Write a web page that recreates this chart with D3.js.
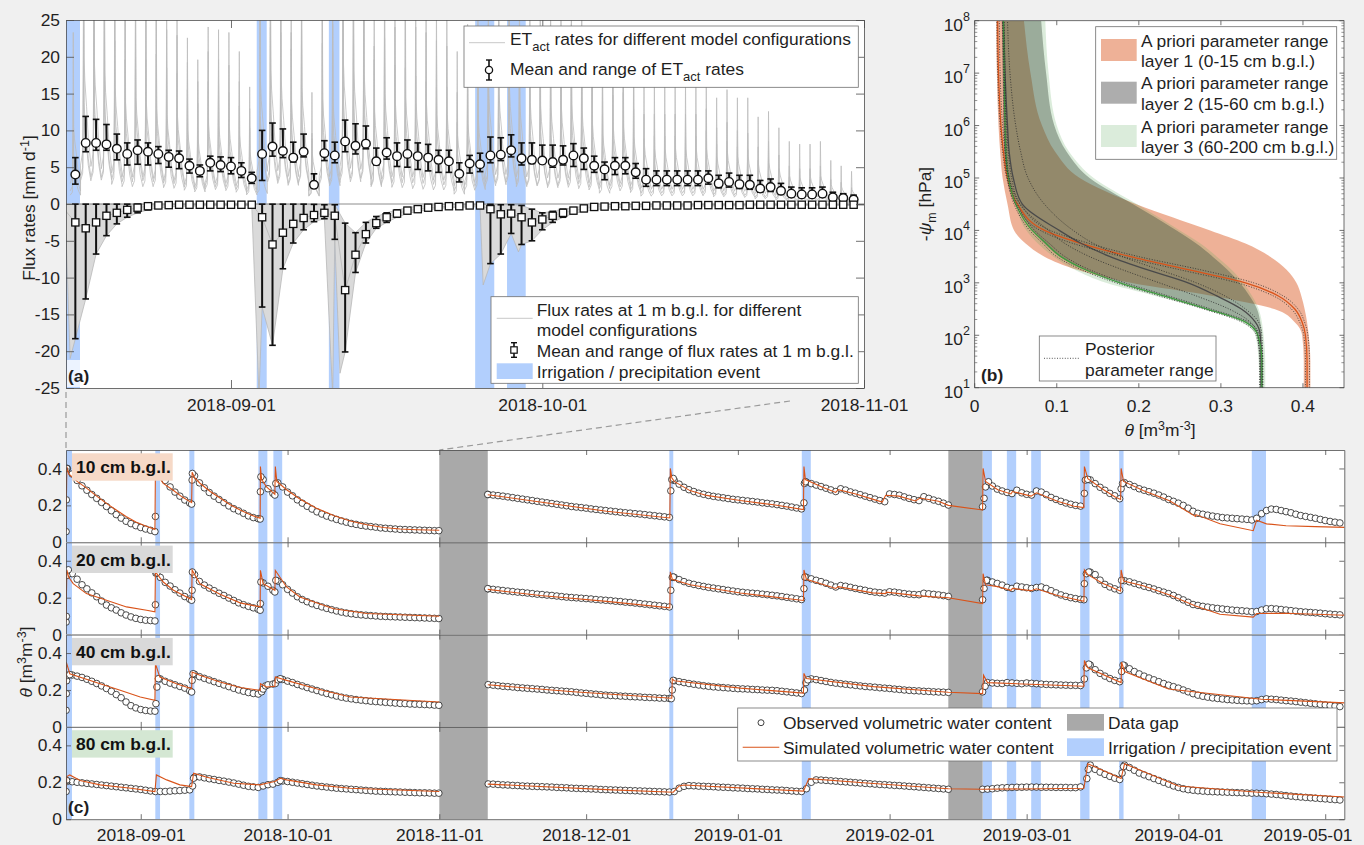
<!DOCTYPE html>
<html><head><meta charset="utf-8">
<script src="https://cdn.jsdelivr.net/npm/d3@7"></script>
<style>body{margin:0;background:#f0f0f0;}svg{display:block;}</style>
</head><body>
<svg id="fig" width="1364" height="845"></svg>
<script>
// ---------------- DATA (t = days since 2018-08-16 00:00 UTC) ----------------
const irrigation = [[0.5,1.95],[18.98,19.94],[25.93,26.95],[40.03,41.87],[43.1,44.9],[124.0,124.8],[151.06,152.9],[188.0,189.9],[192.96,194.86],[197.93,199.9],[207.94,209.84],[215.9,216.8],[243.0,245.9]];
const dataGaps = [[77,86.9],[181,188]];

// Panel (a): daily values, Aug 17 .. Oct 31 2018
const etMean = [4.0,8.3,8.3,8.1,7.5,6.8,7.3,7.1,6.8,6.4,6.2,5.2,4.5,5.6,5.3,5.1,4.5,3.5,6.8,7.8,7.2,6.3,7.1,2.6,6.9,6.6,8.5,7.9,8.2,5.8,7.0,6.5,6.8,6.5,6.3,6.0,5.8,4.1,5.5,5.4,6.6,6.7,7.3,6.2,6.0,5.9,5.7,6.0,6.6,6.2,5.2,4.7,5.2,5.2,4.3,3.3,3.3,3.3,3.3,3.3,3.3,3.5,2.8,3.0,2.7,2.6,2.1,2.3,1.8,1.4,1.3,1.3,1.4,0.9,0.8,0.6];
const etMax = [6.3,11.9,11.5,10.8,9.5,8.3,8.7,8.3,7.8,7.3,7.2,6.1,5.3,6.5,6.4,6.3,5.6,4.3,10.0,11.0,10.2,8.4,9.5,4.1,8.6,8.4,11.4,10.9,10.6,7.6,9.0,8.3,8.7,8.3,8.1,7.3,7.3,5.6,6.6,6.9,9.1,9.0,9.4,8.3,8.3,8.0,8.0,7.9,8.2,7.6,6.5,5.7,6.3,6.3,5.5,4.8,4.5,4.5,4.5,4.5,4.5,4.5,3.9,4.2,3.9,3.9,3.2,3.4,2.8,2.3,2.2,2.2,2.3,1.6,1.4,1.2];
const etMin = [2.7,7.1,7.3,7.3,6.0,5.3,5.4,5.3,5.5,5.0,4.8,4.2,3.7,4.5,4.4,4.1,3.6,2.8,3.2,6.5,6.3,5.7,6.4,2.4,5.9,5.6,7.1,6.8,7.5,5.3,6.1,5.1,5.0,4.7,4.5,4.3,4.3,3.0,4.2,4.4,5.6,5.9,6.4,5.3,5.5,5.5,5.0,5.3,5.1,4.7,4.3,3.3,4.0,4.1,3.5,2.4,2.5,2.5,2.5,2.5,2.5,2.7,2.2,2.3,2.1,2.0,1.6,1.7,1.3,1.0,0.9,0.9,1.0,0.6,0.5,0.4];
const fluxMean = [-2.5,-3.3,-2.5,-1.6,-1.2,-0.8,-0.5,-0.3,-0.2,-0.15,-0.1,-0.1,-0.1,-0.1,-0.1,-0.1,-0.1,-0.1,-1.8,-5.5,-3.9,-2.7,-1.9,-1.5,-1.2,-1.6,-11.7,-6.9,-4.1,-2.6,-1.8,-1.3,-0.9,-0.7,-0.5,-0.4,-0.3,-0.3,-0.2,-0.2,-0.7,-1.4,-1.3,-1.8,-2.5,-2.1,-1.6,-1.2,-0.9,-0.6,-0.4,-0.35,-0.3,-0.3,-0.25,-0.25,-0.2,-0.2,-0.2,-0.2,-0.15,-0.15,-0.15,-0.15,-0.15,-0.1,-0.1,-0.1,-0.1,-0.1,-0.1,-0.1,-0.1,-0.1,-0.1,-0.1];
const fluxMin = [-18.3,-12.9,-6.8,-4.3,-2.7,-1.8,-1.2,-0.8,-0.5,-0.4,-0.3,-0.3,-0.25,-0.2,-0.2,-0.2,-0.2,-0.2,-14.0,-19.2,-8.8,-5.3,-3.5,-2.4,-2.0,-4.8,-20.1,-9.3,-5.3,-3.3,-2.5,-1.8,-1.3,-1.0,-0.8,-0.6,-0.5,-0.45,-0.4,-0.35,-8.1,-6.8,-4.0,-5.5,-5.0,-3.5,-2.5,-1.8,-1.3,-1.0,-0.8,-0.6,-0.5,-0.45,-0.4,-0.4,-0.35,-0.35,-0.3,-0.3,-0.3,-0.3,-0.25,-0.25,-0.25,-0.25,-0.2,-0.2,-0.2,-0.2,-0.2,-0.2,-0.2,-0.2,-0.2,-0.2];
const fluxMax = [-0.02,-0.02,-0.02,-0.02,-0.02,-0.02,-0.02,-0.02,-0.02,-0.02,-0.02,-0.02,-0.02,-0.02,-0.02,-0.02,-0.02,-0.02,-0.02,-0.02,-0.02,-0.02,-0.02,-0.05,-0.1,-0.1,-2.6,-3.9,-2.5,-1.7,-1.2,-0.8,-0.5,-0.3,-0.2,-0.1,-0.05,-0.05,-0.05,-0.05,-0.05,-0.1,-0.1,-0.2,-0.7,-1.2,-1.0,-0.7,-0.5,-0.3,-0.2,-0.1,-0.05,-0.05,-0.05,-0.05,-0.05,-0.05,-0.05,-0.05,-0.05,-0.05,-0.05,-0.05,-0.05,-0.05,-0.05,-0.05,-0.05,-0.05,-0.05,-0.05,-0.05,-0.05,-0.05,-0.05];
const fluxDips = [[0.6,-4],[1.0,-21],[19.2,-26],[26.3,-26],[27.0,-23],[40.8,-11],[44.2,-6.5]];
// sub-daily ET pattern of the model lines: [hour, fraction of daily peak]
const diurnalShape = [[0,0.12],[5,0.16],[6.3,0.4],[7.2,1],[8.2,0.45],[10,0.38],[14,0.3],[18,0.2],[24,0.12]];
const aTicks = [16.5,46.5,77.5];
const aYTicks = [-25,-20,-15,-10,-5,0,5,10,15,20,25];

// Panel (b): retention curves, theta at log10(-psi) levels
const psiLog = [1,1.5,2,2.25,2.5,2.75,3,3.25,3.5,3.75,4,4.5,5,5.5,6,7,8];
const lay1Lo = [0.401,0.401,0.399,0.39,0.365,0.29,0.19,0.125,0.085,0.062,0.048,0.040,0.034,0.031,0.029,0.027,0.026];
const lay1Hi = [0.409,0.409,0.407,0.405,0.402,0.398,0.392,0.38,0.36,0.33,0.287,0.197,0.128,0.098,0.082,0.068,0.060];
const lay2Lo = [0.348,0.347,0.344,0.33,0.283,0.23,0.177,0.135,0.104,0.085,0.071,0.051,0.039,0.036,0.035,0.034,0.033];
const lay2Hi = [0.351,0.351,0.350,0.348,0.344,0.335,0.323,0.308,0.29,0.27,0.246,0.193,0.14,0.112,0.097,0.087,0.081];
const lay3Lo = [0.347,0.346,0.342,0.325,0.28,0.22,0.16,0.122,0.096,0.077,0.063,0.049,0.039,0.037,0.036,0.035,0.035];
const lay3Hi = [0.354,0.354,0.352,0.35,0.346,0.338,0.327,0.313,0.295,0.275,0.25,0.198,0.145,0.115,0.1,0.09,0.086];
const best1 = [0.405,0.405,0.403,0.399,0.39,0.37,0.33,0.26,0.19,0.13,0.085,0.052,0.040,0.035,0.032,0.029,0.028];
const best2 = [0.349,0.349,0.348,0.342,0.325,0.295,0.26,0.21,0.165,0.13,0.103,0.058,0.047,0.042,0.04,0.037,0.035];
const best3 = [0.35,0.35,0.345,0.33,0.283,0.23,0.177,0.135,0.105,0.087,0.07,0.05,0.041,0.038,0.037,0.036,0.035];
const post1a = [0.403,0.403,0.401,0.396,0.386,0.364,0.32,0.25,0.18,0.12,0.08,0.05,0.039,0.034,0.031,0.028,0.027];
const post1b = [0.408,0.408,0.406,0.402,0.394,0.376,0.34,0.275,0.2,0.14,0.092,0.056,0.042,0.037,0.034,0.031,0.03];
const post2a = [0.347,0.347,0.345,0.336,0.31,0.27,0.225,0.18,0.14,0.11,0.09,0.055,0.045,0.041,0.039,0.036,0.034];
const post2b = [0.351,0.351,0.35,0.346,0.33,0.305,0.27,0.225,0.18,0.145,0.12,0.085,0.065,0.056,0.05,0.043,0.04];
const post3a = [0.348,0.348,0.343,0.326,0.279,0.225,0.172,0.13,0.1,0.083,0.067,0.048,0.04,0.037,0.036,0.035,0.034];
const post3b = [0.351,0.351,0.347,0.334,0.288,0.236,0.183,0.14,0.11,0.091,0.073,0.052,0.042,0.039,0.038,0.037,0.036];
const bXTicks = [0,0.1,0.2,0.3,0.4];

// Panel (c): observed theta, daily segments {t0, v} + irregular points [t, v]
const obs10 = [
 {t0:1,v:[0.40,0.37,0.335,0.306,0.282,0.259,0.238,0.216,0.194,0.171,0.150,0.131,0.114,0.101,0.090,0.080,0.072,0.065]},
 {t0:20,v:[0.37,0.335,0.30,0.272,0.25,0.229,0.213]},
 {t0:27,v:[0.36,0.322,0.295,0.27,0.25,0.232,0.215,0.197,0.182,0.17,0.157,0.143,0.134,0.128]},
 {t0:41,v:[0.34,0.29,0.265]},
 {t0:44,v:[0.322,0.30,0.272,0.252,0.23,0.212,0.195,0.18,0.165,0.153,0.142,0.133,0.124,0.116,0.109,0.102,0.097,0.092,0.088,0.085,0.082,0.078,0.076,0.074,0.072,0.070,0.069,0.068,0.067,0.066,0.065,0.064,0.063]},
 {t0:87,v:[0.259,0.256,0.253,0.250,0.246,0.242,0.238,0.234,0.230,0.226,0.222,0.218,0.214,0.210,0.206,0.202,0.198,0.194,0.191,0.188,0.185,0.181,0.178,0.175,0.172,0.169,0.166,0.163,0.160,0.158,0.155,0.153,0.150,0.147,0.144,0.141,0.138,0.135]},
 {t0:125,v:[0.335,0.315,0.298,0.285,0.275,0.266,0.26,0.254,0.249,0.245,0.241,0.237,0.233,0.23,0.227,0.224,0.221,0.218,0.214,0.211,0.208,0.204,0.2,0.196,0.191,0.186,0.181]},
 {t0:152,v:[0.326,0.318,0.31,0.302,0.293,0.284,0.275,0.29,0.283,0.273,0.266,0.258,0.25,0.242,0.234,0.226,0.22,0.262,0.259,0.255,0.246,0.238,0.231,0.226,0.247,0.238,0.229,0.222,0.212,0.202]},
 {t0:190,v:[0.305,0.288,0.278,0.27,0.264,0.282,0.268,0.26,0.256,0.278,0.272,0.258,0.243,0.232,0.222,0.213,0.206,0.2,0.196]},
 {t0:210,v:[0.338,0.318,0.298,0.282,0.265,0.252,0.236]},
 {t0:217,v:[0.323,0.313,0.302,0.29,0.282,0.274,0.266,0.256,0.245,0.232,0.222,0.212,0.2,0.185,0.168,0.157,0.152,0.147,0.142,0.138,0.134,0.132,0.13,0.128,0.126,0.124,0.121,0.13,0.155,0.172,0.18,0.178,0.172,0.166,0.16,0.152,0.145,0.14,0.135,0.13,0.124,0.118,0.113,0.109,0.105]}];
const obs10x = [[0.75,0.058],[0.8,0.23],[0.9,0.40],[18.9,0.058],[19.0,0.14],[19.1,0.38],[19.3,0.39],[26.4,0.207],[26.5,0.337],[26.55,0.373],[40.4,0.126],[40.45,0.274],[40.55,0.355],[43.4,0.256],[43.6,0.319],[76.9,0.063],[86.9,0.259],[124.3,0.279],[124.5,0.34],[124.8,0.346],[151.5,0.214],[151.6,0.319],[151.8,0.328],[188.0,0.193],[188.3,0.238],[188.6,0.30],[189.2,0.328],[208.8,0.265],[209.0,0.337],[209.5,0.341],[216.3,0.29],[216.6,0.319]];

const obs20 = [
 {t0:2,v:[0.33,0.30,0.27,0.248,0.226,0.205,0.182,0.16,0.145,0.133,0.118,0.106,0.096,0.088,0.082,0.078,0.076]},
 {t0:20,v:[0.31,0.283,0.263,0.243,0.225,0.206,0.192]},
 {t0:27,v:[0.325,0.288,0.268,0.252,0.238,0.224,0.212,0.198,0.185,0.172,0.162,0.153,0.145,0.137]},
 {t0:41,v:[0.28,0.262,0.24]},
 {t0:44,v:[0.29,0.27,0.245,0.225,0.205,0.19,0.178,0.167,0.158,0.15,0.142,0.135,0.128,0.122,0.117,0.113,0.11,0.107,0.105,0.103,0.101,0.099,0.098,0.097,0.096,0.095,0.094,0.093,0.092,0.091,0.09,0.089,0.088]},
 {t0:87,v:[0.248,0.245,0.242,0.239,0.236,0.233,0.23,0.228,0.225,0.222,0.219,0.217,0.214,0.212,0.209,0.206,0.203,0.201,0.199,0.197,0.195,0.193,0.19,0.188,0.186,0.184,0.181,0.179,0.176,0.174,0.171,0.168,0.165,0.162,0.159,0.156,0.153,0.15]},
 {t0:125,v:[0.31,0.298,0.287,0.278,0.272,0.266,0.261,0.256,0.252,0.248,0.244,0.24,0.236,0.232,0.229,0.226,0.224,0.222,0.219,0.216,0.213,0.21,0.206,0.202,0.198,0.194,0.19]},
 {t0:152,v:[0.31,0.302,0.294,0.287,0.278,0.268,0.258,0.266,0.262,0.256,0.25,0.245,0.24,0.234,0.23,0.227,0.225,0.232,0.23,0.226,0.222,0.219,0.217,0.216,0.224,0.221,0.218,0.215,0.211,0.207]},
 {t0:189,v:[0.294,0.285,0.277,0.268,0.256,0.25,0.262,0.258,0.254,0.25,0.255,0.258,0.25,0.238,0.226,0.215,0.207,0.2,0.195,0.191]},
 {t0:210,v:[0.338,0.325,0.295,0.272,0.258,0.248,0.24]},
 {t0:217,v:[0.292,0.286,0.278,0.27,0.262,0.255,0.247,0.238,0.23,0.222,0.212,0.2,0.188,0.175,0.163,0.158,0.153,0.149,0.145,0.142,0.139,0.136,0.133,0.131,0.129,0.127,0.124,0.125,0.133,0.14,0.141,0.139,0.136,0.133,0.13,0.127,0.124,0.122,0.12,0.118,0.116,0.113,0.111,0.109,0.107]}];
const obs20x = [[0.75,0.068],[0.8,0.099],[0.9,0.32],[1.2,0.351],[18.9,0.074],[19.0,0.162],[19.1,0.333],[19.3,0.335],[26.4,0.186],[26.5,0.24],[26.55,0.339],[40.4,0.132],[40.45,0.168],[40.55,0.285],[43.4,0.231],[43.6,0.294],[76.9,0.087],[86.9,0.249],[124.3,0.24],[124.6,0.31],[124.8,0.312],[151.5,0.249],[151.7,0.312],[188,0.189],[188.3,0.25],[188.8,0.294],[208.7,0.189],[208.8,0.276],[209.2,0.33],[209.7,0.339],[216.4,0.294]];

const obs40 = [
 {t0:2,v:[0.281,0.275,0.268,0.258,0.247,0.235,0.222,0.208,0.193,0.175,0.158,0.135,0.115,0.103,0.094,0.089,0.086]},
 {t0:20,v:[0.26,0.247,0.237,0.228,0.219,0.21,0.196]},
 {t0:27,v:[0.285,0.272,0.263,0.254,0.245,0.236,0.227,0.218,0.209,0.2,0.193,0.186,0.181,0.178]},
 {t0:45,v:[0.257,0.248,0.24,0.23,0.222,0.213,0.205,0.197,0.189,0.181,0.174,0.167,0.161,0.156,0.152,0.148,0.145,0.142,0.139,0.137,0.135,0.133,0.131,0.129,0.127,0.126,0.124,0.123,0.122,0.121,0.12,0.118]},
 {t0:87,v:[0.229,0.226,0.223,0.22,0.218,0.216,0.213,0.211,0.209,0.207,0.205,0.203,0.2,0.198,0.196,0.194,0.192,0.19,0.187,0.184,0.182,0.179,0.177,0.174,0.172,0.17,0.169,0.167,0.166,0.164,0.163,0.162,0.16,0.159,0.158,0.156,0.155,0.154]},
 {t0:125,v:[0.25,0.245,0.24,0.235,0.231,0.227,0.223,0.22,0.217,0.215,0.213,0.211,0.209,0.207,0.206,0.205,0.203,0.202,0.2,0.199,0.198,0.196,0.193,0.19,0.187,0.184,0.181]},
 {t0:153,v:[0.26,0.256,0.251,0.246,0.241,0.237,0.234,0.231,0.228,0.225,0.222,0.219,0.217,0.215,0.212,0.21,0.208,0.205,0.203,0.2,0.198,0.196,0.195,0.193,0.192,0.19,0.189,0.188,0.187]},
 {t0:189,v:[0.24,0.238,0.236,0.235,0.24,0.238,0.236,0.234,0.238,0.236,0.234,0.232,0.23,0.229,0.228,0.227,0.226,0.225,0.225,0.224]},
 {t0:210,v:[0.335,0.31,0.29,0.275,0.262,0.252,0.245]},
 {t0:217,v:[0.332,0.315,0.3,0.287,0.275,0.265,0.255,0.245,0.235,0.226,0.218,0.21,0.2,0.19,0.18,0.172,0.166,0.161,0.157,0.154,0.151,0.148,0.146,0.144,0.142,0.141,0.14,0.142,0.148,0.152,0.15,0.148,0.145,0.142,0.14,0.137,0.134,0.131,0.128,0.125,0.122,0.119,0.116,0.113,0.11]}];
const obs40x = [[0.75,0.09],[0.8,0.18],[0.85,0.25],[1.0,0.279],[1.5,0.283],[18.9,0.085],[19.1,0.126],[19.3,0.216],[19.6,0.261],[26.4,0.189],[26.5,0.252],[26.7,0.288],[40.7,0.19],[41.0,0.205],[41.5,0.222],[42,0.228],[43,0.232],[43.5,0.235],[44,0.255],[44.5,0.261],[76.9,0.117],[124.4,0.153],[124.6,0.2],[124.8,0.252],[151.6,0.2],[151.9,0.24],[152.3,0.255],[188,0.19],[188.5,0.22],[208.8,0.26],[209.2,0.32],[209.7,0.34],[216.4,0.3],[216.7,0.335]];

const obs80 = [
 {t0:1,v:[0.205,0.203,0.2,0.197,0.194,0.191,0.188,0.185,0.182,0.179,0.176,0.173,0.17,0.167,0.164,0.161,0.157,0.153,0.15,0.15,0.15,0.152,0.154,0.155,0.157,0.159]},
 {t0:27,v:[0.228,0.229,0.224,0.219,0.215,0.21,0.206,0.201,0.196,0.19,0.184,0.178,0.175,0.172,0.18,0.187,0.19,0.2]},
 {t0:45,v:[0.207,0.204,0.2,0.196,0.192,0.188,0.184,0.18,0.177,0.174,0.171,0.168,0.166,0.164,0.162,0.16,0.158,0.156,0.154,0.152,0.151,0.15,0.149,0.148,0.147,0.146,0.145,0.144,0.143,0.143,0.142,0.141]},
 {t0:87,v:[0.191,0.19,0.188,0.186,0.185,0.183,0.182,0.18,0.179,0.178,0.177,0.176,0.175,0.174,0.172,0.171,0.17,0.168,0.167,0.166,0.165,0.164,0.163,0.161,0.16,0.159,0.158,0.157,0.156,0.155,0.154,0.153,0.152,0.151,0.15,0.149,0.148,0.147,0.15,0.168,0.178,0.182,0.181,0.179,0.178,0.177,0.176,0.174,0.173,0.172,0.17,0.169,0.168,0.166,0.165,0.164,0.162,0.161,0.159,0.158,0.157,0.155,0.153,0.151,0.15,0.165,0.2,0.213,0.212,0.21,0.208,0.206,0.204,0.202,0.2,0.198,0.196,0.194,0.192,0.19,0.188,0.187,0.185,0.183,0.182,0.18,0.178,0.176,0.174,0.172,0.17,0.168,0.166,0.164,0.162]},
 {t0:188,v:[0.162,0.163,0.165,0.168,0.17,0.171,0.172,0.173,0.173,0.174,0.174,0.174,0.173,0.173,0.173,0.172,0.172,0.172,0.171,0.171,0.175]},
 {t0:210,v:[0.293,0.27,0.255,0.243,0.232,0.222,0.215]},
 {t0:217,v:[0.293,0.28,0.265,0.25,0.24,0.23,0.22,0.21,0.2,0.19,0.18,0.172,0.165,0.16,0.157,0.154,0.152,0.15,0.149,0.148,0.147,0.146,0.145,0.144,0.143,0.142,0.141,0.141,0.14,0.138,0.136,0.134,0.131,0.128,0.125,0.122,0.12,0.118,0.116,0.114,0.112,0.11,0.108,0.106,0.104]}];
const obs80x = [[0.75,0.15],[0.85,0.21],[26.6,0.18],[26.8,0.222],[44.5,0.209],[76.9,0.141],[209.3,0.22],[209.6,0.27],[216.5,0.25],[216.8,0.285]];

// Panel (c): simulated theta (main model line), [t, v]
const sim10 = [
 [[0.73,0.06],[0.9,0.41],[1.3,0.37],[3,0.33],[5,0.292],[7,0.25],[9,0.211],[11,0.175],[13,0.14],[15,0.11],[17,0.088],[18.9,0.07],[19.0,0.40],[19.3,0.37],[20.6,0.319],[22.5,0.285],[24.5,0.245],[26.4,0.215],[26.5,0.38],[27,0.35],[28.1,0.32],[30.2,0.275],[32.2,0.24],[34.2,0.205],[36.3,0.175],[38.3,0.15],[40.4,0.13],[40.45,0.41],[40.7,0.34],[41.7,0.30],[43.4,0.26],[43.5,0.41],[43.8,0.33],[45.8,0.285],[48.5,0.235],[51.9,0.185],[55.4,0.145],[58.8,0.115],[62.2,0.095],[65.6,0.08],[69,0.072],[72.4,0.068],[77,0.065]],
 [[86.9,0.258],[97.6,0.218],[111.2,0.168],[124.1,0.132],[124.2,0.40],[124.5,0.35],[125,0.33],[128.2,0.28],[131.6,0.254],[138.5,0.226],[145.3,0.203],[151.4,0.177],[151.5,0.41],[151.8,0.34],[155.3,0.298],[158,0.27],[158.5,0.285],[162.1,0.262],[165.5,0.234],[167.5,0.218],[168.2,0.255],[170.9,0.25],[174.3,0.224],[175.2,0.24],[179,0.222],[181,0.2],[188,0.175],[188.1,0.40],[188.6,0.33],[191.1,0.285],[193.8,0.262],[194.1,0.275],[197.9,0.25],[199,0.268],[203.3,0.222],[206.7,0.195],[208.7,0.188],[208.8,0.41],[209.5,0.345],[212.4,0.29],[215.1,0.245],[216.2,0.232],[216.3,0.40],[216.8,0.33],[220.8,0.28],[226.2,0.225],[231.5,0.14],[231.6,0.15],[236.5,0.1],[243.3,0.063],[244,0.12],[246,0.1],[250,0.09],[256,0.085],[262,0.081]]];
const sim20 = [
 [[0.73,0.07],[0.9,0.35],[1.3,0.31],[2.2,0.276],[4.9,0.222],[9,0.186],[13.1,0.15],[17.2,0.132],[18.9,0.123],[19.0,0.34],[20.6,0.285],[22.7,0.24],[26.4,0.19],[26.5,0.35],[28.1,0.275],[32.2,0.218],[36.3,0.172],[40.4,0.15],[40.45,0.348],[41,0.276],[43.4,0.24],[43.5,0.348],[45.8,0.258],[48.5,0.204],[55.4,0.14],[62.2,0.114],[77,0.099]],
 [[86.9,0.245],[97.6,0.212],[111.2,0.18],[124.1,0.145],[124.2,0.34],[124.6,0.3],[128.2,0.27],[138.5,0.225],[151.4,0.185],[151.5,0.35],[152,0.3],[158,0.25],[158.5,0.26],[165.5,0.226],[168.2,0.222],[168.3,0.23],[175,0.21],[181,0.2],[188,0.168],[188.1,0.33],[188.6,0.27],[191.1,0.26],[193.8,0.24],[194.1,0.25],[197.9,0.238],[199,0.248],[203.3,0.212],[208.7,0.18],[208.8,0.35],[209.5,0.325],[212.4,0.28],[216.2,0.235],[216.3,0.35],[216.8,0.29],[220.8,0.265],[226.2,0.215],[231.5,0.155],[236.5,0.11],[243.3,0.095],[244,0.114],[250,0.116],[262,0.105]]];
const sim40 = [
 [[0.73,0.09],[0.8,0.35],[1.5,0.288],[7.7,0.234],[11.8,0.198],[15.9,0.162],[18.9,0.144],[19.0,0.342],[19.9,0.27],[23.3,0.234],[26.4,0.207],[26.5,0.297],[28.1,0.28],[32.2,0.243],[36.3,0.213],[40.4,0.198],[40.45,0.234],[41.7,0.216],[43.4,0.22],[43.5,0.27],[45.8,0.252],[51.9,0.207],[58.8,0.162],[77,0.135]],
 [[86.9,0.228],[104.4,0.19],[124.5,0.155],[124.6,0.26],[125,0.25],[138.5,0.21],[151.4,0.183],[151.5,0.29],[152,0.262],[165.7,0.218],[181,0.188],[188,0.18],[188.2,0.28],[189,0.24],[208.7,0.22],[208.8,0.36],[209.5,0.32],[216.3,0.24],[216.4,0.35],[217,0.3],[226,0.205],[245,0.15],[262,0.13]]];
const sim80 = [
 [[0.73,0.15],[0.9,0.231],[1.5,0.24],[3.6,0.21],[7.7,0.186],[14,0.168],[18.9,0.15],[19.2,0.24],[21.3,0.213],[24,0.186],[26.4,0.177],[26.8,0.249],[29.5,0.227],[35,0.195],[40.4,0.186],[41.7,0.195],[43.4,0.204],[44.5,0.222],[45.8,0.213],[51.9,0.186],[58.8,0.168],[77,0.15]],
 [[86.9,0.19],[111.2,0.16],[124.8,0.146],[126,0.18],[127,0.185],[151.4,0.152],[152.5,0.22],[165,0.195],[181,0.165],[188,0.162],[208.7,0.168],[209.5,0.3],[216.3,0.22],[217,0.3],[228,0.18],[245,0.145],[262,0.12]]];
const depthLabels = ["10 cm b.g.l.","20 cm b.g.l.","40 cm b.g.l.","80 cm b.g.l."];
const cYTicks = [0,0.2,0.4];

// ---------------- DRAWING ----------------
const FONT = '"Liberation Sans", Arial, Helvetica, sans-serif';
const FS = 17.4, FSS = 12.5;
const BLUE = "#b2cffd", GAPC = "#a9a9a9", ORANGE = "#d95319", AXC = "#4d4d4d", TXT = "#1f1f1f";
const T0 = Date.UTC(2018,7,16), DAY = 864e5;
const dt = t => new Date(T0 + t*DAY);
const svg = d3.select("#fig").attr("font-family", FONT);
svg.append("rect").attr("width",1364).attr("height",845).attr("fill","#f0f0f0");
const defs = svg.append("defs");
let clipN = 0;
function clip(x,y,w,h){ const id="c"+(clipN++); defs.append("clipPath").attr("id",id).append("rect").attr("x",x).attr("y",y).attr("width",w).attr("height",h); return `url(#${id})`; }
function styleAx(g){ g.attr("font-family",FONT).attr("font-size",FS);
  g.select(".domain").attr("stroke",AXC).attr("stroke-width",0.8);
  g.selectAll(".tick line").attr("stroke",AXC).attr("stroke-width",0.8);
  g.selectAll(".tick text").attr("fill",TXT); }
function boxAxes(g, xs, ys, o){
  const [x0,x1] = xs.range(), [yb,yt] = ys.range(), L = o.tick;
  g.append("g").attr("transform",`translate(${x0},0)`).call(d3.axisLeft(ys).tickValues(o.yTicks).tickSizeInner(-L).tickSizeOuter(0).tickPadding(o.yPad).tickFormat(o.yFmt||(()=>""))).call(styleAx);
  g.append("g").attr("transform",`translate(${x1},0)`).call(d3.axisRight(ys).tickValues(o.yTicks).tickSizeInner(-L).tickSizeOuter(0).tickFormat(()=>"")).call(styleAx);
  const bx = g.append("g").attr("transform",`translate(0,${yb})`).call(d3.axisBottom(xs).tickValues(o.xTicks).tickSizeInner(-L).tickSizeOuter(0).tickPadding(o.xPad).tickFormat(o.xFmt||(()=>""))).call(styleAx);
  g.append("g").attr("transform",`translate(0,${yt})`).call(d3.axisTop(xs).tickValues(o.xTicks).tickSizeInner(-L).tickSizeOuter(0).tickFormat(()=>"")).call(styleAx);
  return bx;
}
const dateFmt = d3.utcFormat("%Y-%m-%d");

// connectors (zoom lines)
svg.append("line").attr("x1",66).attr("y1",392).attr("x2",66).attr("y2",450).attr("stroke","#9a9a9a").attr("stroke-width",1.2).attr("stroke-dasharray","6,4");
svg.append("line").attr("x1",790).attr("y1",401).attr("x2",439.3).attr("y2",450).attr("stroke","#9a9a9a").attr("stroke-width",1.2).attr("stroke-dasharray","6,4");

// ===== Panel (a) =====
const A = {l:66, r:864, t:20, b:388};
const xa = d3.scaleUtc().domain([dt(0.6), dt(77.5)]).range([A.l, A.r]);
const ya = d3.scaleLinear().domain([-25,25]).range([A.b, A.t]);
const gA = svg.append("g");
gA.append("rect").attr("x",A.l).attr("y",A.t).attr("width",A.r-A.l).attr("height",A.b-A.t).attr("fill","#fff");
const pA = gA.append("g").attr("clip-path", clip(A.l,A.t,A.r-A.l,A.b-A.t));
pA.selectAll(null).data(irrigation).join("rect").attr("x",d=>xa(dt(d[0]))).attr("width",d=>xa(dt(d[1]))-xa(dt(d[0]))).attr("y",A.t).attr("height",A.b-A.t).attr("fill",BLUE);
const lineA = d3.line().x(d=>xa(dt(d[0]))).y(d=>ya(d[1]));
function dailyPts(vals, extra, first){ const p = vals.map((v,i)=>[i+1.5, v]); if(first!==undefined) p.push([0.6, first]); if(extra) extra.forEach(e=>p.push(e)); p.push([77.5, vals[vals.length-1]]); return p.sort((a,b)=>a[0]-b[0]); }
// flux model configurations (fan)
const fMin = dailyPts(fluxMin, fluxDips), fMax = dailyPts(fluxMax, null, 0), fMean = dailyPts(fluxMean, null, -1);
pA.append("path").attr("d", lineA(fMin.concat(fMax.slice().reverse()))+"Z").attr("fill","#dadada");
[fMin, fMean, fMax].forEach(p=>pA.append("path").attr("d",lineA(p)).attr("fill","none").attr("stroke","#b8b8b8").attr("stroke-width",0.8));
// ET model configurations (sub-daily)
const shapeMean = d3.sum(d3.pairs(diurnalShape), ([a,b])=>(b[0]-a[0])*(a[1]+b[1])/2)/24;
function etPts(vals){ const p=[]; vals.forEach((v,i)=>diurnalShape.forEach(([h,f])=>p.push([i+1+h/24, v*f/shapeMean]))); return p; }
[etMin, etMean, etMax].forEach(vals=>pA.append("path").attr("d",lineA(etPts(vals))).attr("fill","none").attr("stroke","#bcbcbc").attr("stroke-width",0.8));
pA.append("line").attr("x1",A.l).attr("x2",A.r).attr("y1",ya(0)).attr("y2",ya(0)).attr("stroke","#8c8c8c").attr("stroke-width",1);
// error bars
function errBars(g, mean, lo, hi, marker){
  mean.forEach((m,i)=>{ const x = xa(dt(i+1.5));
    g.append("line").attr("x1",x).attr("x2",x).attr("y1",ya(lo[i])).attr("y2",ya(hi[i])).attr("stroke","#111").attr("stroke-width",2);
    [lo[i],hi[i]].forEach(v=>g.append("line").attr("x1",x-3.3).attr("x2",x+3.3).attr("y1",ya(v)).attr("y2",ya(v)).attr("stroke","#111").attr("stroke-width",1.6));
    if(marker==="o") g.append("circle").attr("cx",x).attr("cy",ya(m)).attr("r",4.3).attr("fill","#fff").attr("stroke","#111").attr("stroke-width",1.4);
    else g.append("rect").attr("x",x-3.6).attr("y",ya(m)-3.6).attr("width",7.2).attr("height",7.2).attr("fill","#fff").attr("stroke","#111").attr("stroke-width",1.3);
  });
}
errBars(pA, etMean, etMin, etMax, "o");
errBars(pA, fluxMean, fluxMin, fluxMax, "s");
boxAxes(gA, xa, ya, {tick:8, yTicks:aYTicks, yFmt:d=>String(d), yPad:6, xTicks:aTicks.map(dt), xFmt:dateFmt, xPad:10.5});
// (a) label
gA.append("rect").attr("x",67).attr("y",360).attr("width",26).attr("height",27).attr("fill","#fff").attr("opacity",0.75);
gA.append("text").attr("x",68).attr("y",382).attr("font-size",FS).attr("font-weight","bold").attr("fill",TXT).text("(a)");
gA.append("text").attr("transform","translate(35,208) rotate(-90)").attr("text-anchor","middle").attr("font-size",FS).attr("fill",TXT)
  .call(t=>{ t.append("tspan").text("Flux rates [mm d"); t.append("tspan").attr("dy",-6.5).attr("font-size",FSS).text("-1"); t.append("tspan").attr("dy",6.5).text("]"); });
// legends (a)
function legendBox(g,x,y,w,h){ g.append("rect").attr("x",x).attr("y",y).attr("width",w).attr("height",h).attr("fill","#fff").attr("stroke","#6e6e6e").attr("stroke-width",0.8); }
function etText(g,x,y,pre,post){ const t=g.append("text").attr("x",x).attr("y",y).attr("font-size",FS).attr("fill",TXT);
  t.append("tspan").text(pre+"ET"); t.append("tspan").attr("dy",6).attr("font-size",13).text("act"); t.append("tspan").attr("dy",-6).text(post); }
legendBox(gA,464,26,394.3,61.3);
gA.append("line").attr("x1",469).attr("x2",505).attr("y1",42.7).attr("y2",42.7).attr("stroke","#c8c8c8").attr("stroke-width",1);
etText(gA,510,45.3,""," rates for different model configurations");
gA.append("line").attr("x1",489).attr("x2",489).attr("y1",60).attr("y2",80).attr("stroke","#111").attr("stroke-width",1.6);
[60,80].forEach(v=>gA.append("line").attr("x1",486).attr("x2",492).attr("y1",v).attr("y2",v).attr("stroke","#111").attr("stroke-width",1.4));
gA.append("circle").attr("cx",489).attr("cy",70).attr("r",3.6).attr("fill","#fff").attr("stroke","#111").attr("stroke-width",1.3);
etText(gA,510,74.5,"Mean and range of "," rates");
legendBox(gA,491,296.7,367.3,86.6);
gA.append("line").attr("x1",496.7).attr("x2",532.7).attr("y1",318.3).attr("y2",318.3).attr("stroke","#c8c8c8").attr("stroke-width",1);
[["Flux rates at 1 m b.g.l. for different",315.6],["model configurations",336.3],["Mean and range of flux rates at 1 m b.g.l.",357.3],["Irrigation / precipitation event",378]].forEach(([s,y])=>
  gA.append("text").attr("x",536.7).attr("y",y).attr("font-size",FS).attr("fill",TXT).text(s));
gA.append("line").attr("x1",514).attr("x2",514).attr("y1",342.7).attr("y2",357.3).attr("stroke","#111").attr("stroke-width",1.6);
[342.7,357.3].forEach(v=>gA.append("line").attr("x1",511).attr("x2",517).attr("y1",v).attr("y2",v).attr("stroke","#111").attr("stroke-width",1.4));
gA.append("rect").attr("x",510.8).attr("y",346.8).attr("width",6.4).attr("height",6.4).attr("fill","#fff").attr("stroke","#111").attr("stroke-width",1.2);
gA.append("rect").attr("x",496.7).attr("y",363.3).attr("width",36).attr("height",15.7).attr("fill",BLUE);

// ===== Panel (b) =====
const B = {l:974.7, r:1344, t:20.7, b:387.7};
const xb = d3.scaleLinear().domain([0,0.45]).range([B.l,B.r]);
const yb = d3.scaleLog().domain([10,1e8]).range([B.b,B.t]);
const gB = svg.append("g");
gB.append("rect").attr("x",B.l).attr("y",B.t).attr("width",B.r-B.l).attr("height",B.b-B.t).attr("fill","#fff");
const pB = gB.append("g").attr("clip-path", clip(B.l,B.t,B.r-B.l,B.b-B.t));
const rowsB = (lo,hi)=>psiLog.map((l,i)=>({l, lo:lo[i], hi:hi[i]}));
const areaB = d3.area().curve(d3.curveMonotoneY).y(d=>yb(10**d.l)).x0(d=>xb(d.lo)).x1(d=>xb(d.hi));
const lineB = d3.line().curve(d3.curveMonotoneY).y(d=>yb(10**d.l)).x(d=>xb(d.v));
const lnB = arr=>psiLog.map((l,i)=>({l, v:arr[i]}));
const F1 = "rgba(217,83,25,0.45)", F2 = "rgba(60,60,60,0.42)", F3 = "rgba(90,170,90,0.22)";
pB.append("path").attr("d",areaB(rowsB(lay1Lo,lay1Hi))).attr("fill",F1);
pB.append("path").attr("d",areaB(rowsB(lay2Lo,lay2Hi))).attr("fill",F2);
pB.append("path").attr("d",areaB(rowsB(lay3Lo,lay3Hi))).attr("fill",F3);
[[best1,ORANGE],[best2,"#4a4a4a"],[best3,"#3f9a3f"]].forEach(([a,c])=>pB.append("path").attr("d",lineB(lnB(a))).attr("fill","none").attr("stroke",c).attr("stroke-width",1.3));
[post1a,post1b,post2a,post2b,post3a,post3b].forEach(a=>pB.append("path").attr("d",lineB(lnB(a))).attr("fill","none").attr("stroke","#2a2a2a").attr("stroke-width",0.8).attr("stroke-dasharray","1,1.6"));
// axes (b)
const bAx = gB.append("g");
const bMajor = d3.range(1,9).map(k=>10**k);
const bMinor = []; for(let k=1;k<8;k++) for(let m=2;m<10;m++) bMinor.push(m*10**k);
bAx.append("rect").attr("x",B.l).attr("y",B.t).attr("width",B.r-B.l).attr("height",B.b-B.t).attr("fill","none").attr("stroke",AXC).attr("stroke-width",0.8);
bMajor.forEach(v=>{ const y=yb(v); bAx.append("line").attr("x1",B.l).attr("x2",B.l+4.5).attr("y1",y).attr("y2",y).attr("stroke",AXC).attr("stroke-width",0.8); bAx.append("line").attr("x1",B.r-4.5).attr("x2",B.r).attr("y1",y).attr("y2",y).attr("stroke",AXC).attr("stroke-width",0.8);
  const t=bAx.append("text").attr("x",970).attr("y",y+10).attr("text-anchor","end").attr("font-size",FS).attr("fill",TXT);
  t.append("tspan").text("10"); t.append("tspan").attr("dy",-10).attr("font-size",FSS).text(Math.round(Math.log10(v))); });
bMinor.forEach(v=>{ const y=yb(v); bAx.append("line").attr("x1",B.l).attr("x2",B.l+2.6).attr("y1",y).attr("y2",y).attr("stroke",AXC).attr("stroke-width",0.6); bAx.append("line").attr("x1",B.r-2.6).attr("x2",B.r).attr("y1",y).attr("y2",y).attr("stroke",AXC).attr("stroke-width",0.6); });
bXTicks.forEach(v=>{ const x=xb(v); bAx.append("line").attr("x1",x).attr("x2",x).attr("y1",B.b).attr("y2",B.b-4.5).attr("stroke",AXC).attr("stroke-width",0.8); bAx.append("line").attr("x1",x).attr("x2",x).attr("y1",B.t).attr("y2",B.t+4.5).attr("stroke",AXC).attr("stroke-width",0.8);
  bAx.append("text").attr("x",x).attr("y",412).attr("text-anchor","middle").attr("font-size",FS).attr("fill",TXT).text(v===0?"0":v.toFixed(1)); });
gB.append("text").attr("x",1160).attr("y",436).attr("text-anchor","middle").attr("font-size",FS).attr("fill",TXT)
  .call(t=>{ t.append("tspan").attr("font-style","italic").text("θ"); t.append("tspan").text(" [m"); t.append("tspan").attr("dy",-6.5).attr("font-size",FSS).text("3"); t.append("tspan").attr("dy",6.5).text("m"); t.append("tspan").attr("dy",-6.5).attr("font-size",FSS).text("-3"); t.append("tspan").attr("dy",6.5).text("]"); });
gB.append("text").attr("transform","translate(931,204) rotate(-90)").attr("text-anchor","middle").attr("font-size",FS).attr("fill",TXT)
  .call(t=>{ t.append("tspan").text("-"); t.append("tspan").attr("font-style","italic").text("ψ"); t.append("tspan").attr("dy",5).attr("font-size",FSS).text("m"); t.append("tspan").attr("dy",-5).text("  [hPa]"); });
gB.append("text").attr("x",981).attr("y",381).attr("font-size",FS).attr("font-weight","bold").attr("fill",TXT).text("(b)");
legendBox(gB,1095.7,26.7,241,132.6);
[[F1,39,"layer 1 (0-15 cm b.g.l.)",46.7],[F2,81.7,"layer 2 (15-60 cm b.g.l.)",89.3],[F3,125,"layer 3 (60-200 cm b.g.l.)",132.7]].forEach(([c,y,s,ty])=>{
  gB.append("rect").attr("x",1101).attr("y",y).attr("width",35.7).attr("height",22).attr("fill",c);
  gB.append("text").attr("x",1141).attr("y",ty).attr("font-size",FS).attr("fill",TXT).text("A priori parameter range");
  gB.append("text").attr("x",1141).attr("y",ty+20.5).attr("font-size",FS).attr("fill",TXT).text(s); });
legendBox(gB,1039.3,336,176.7,45);
gB.append("line").attr("x1",1044).attr("x2",1080).attr("y1",358.3).attr("y2",358.3).attr("stroke","#2a2a2a").attr("stroke-width",0.8).attr("stroke-dasharray","1,1.6");
gB.append("text").attr("x",1085).attr("y",355).attr("font-size",FS).attr("fill",TXT).text("Posterior");
gB.append("text").attr("x",1085).attr("y",376).attr("font-size",FS).attr("fill",TXT).text("parameter range");

// ===== Panel (c) =====
const C = {l:66, r:1344.3};
const xc = d3.scaleUtc().domain([dt(0.73), dt(261.9)]).range([C.l, C.r]);
const rowTops = [450, 542.3, 634.6, 726.9], rowH = 92.3;
const labelFill = ["#f6d9c7","#d9d9d9","#d9d9d9","#d4e7d3"];
const obsAll = [[obs10,obs10x],[obs20,obs20x],[obs40,obs40x],[obs80,obs80x]];
const simAll = [sim10, sim20, sim40, sim80];
const cXTicks = d3.utcMonth.range(dt(10), dt(262));
rowTops.forEach((top,r)=>{
  const g = svg.append("g");
  const yc = d3.scaleLinear().domain([0,0.5]).range([top+rowH, top]);
  g.append("rect").attr("x",C.l).attr("y",top).attr("width",C.r-C.l).attr("height",rowH).attr("fill","#fff");
  const p = g.append("g").attr("clip-path", clip(C.l,top,C.r-C.l,rowH));
  p.selectAll(null).data(irrigation).join("rect").attr("x",d=>xc(dt(d[0]))).attr("width",d=>xc(dt(d[1]))-xc(dt(d[0]))).attr("y",top).attr("height",rowH).attr("fill",BLUE);
  p.selectAll(null).data(dataGaps).join("rect").attr("x",d=>xc(dt(d[0]))).attr("width",d=>xc(dt(d[1]))-xc(dt(d[0]))).attr("y",top).attr("height",rowH).attr("fill",GAPC);
  const [segs, extra] = obsAll[r];
  const pts = []; segs.forEach(s=>s.v.forEach((v,k)=>pts.push([s.t0+k, v]))); extra.forEach(e=>pts.push(e));
  p.selectAll(null).data(pts).join("circle").attr("cx",d=>xc(dt(d[0]))).attr("cy",d=>yc(d[1])).attr("r",3.3).attr("fill","#fff").attr("stroke","#111").attr("stroke-width",0.75);
  const ln = d3.line().x(d=>xc(dt(d[0]))).y(d=>yc(d[1]));
  simAll[r].forEach(s=>p.append("path").attr("d",ln(s)).attr("fill","none").attr("stroke",ORANGE).attr("stroke-width",1.1));
  const last = r===3;
  const bx = boxAxes(g, xc, yc, {tick:5, yTicks:cYTicks, yFmt:d=>d===0?"0":d.toFixed(1), yPad:4, xTicks:cXTicks, xFmt:last?dateFmt:null, xPad:9.5});
  if(last){ const tx = bx.selectAll(".tick text"); const n = tx.size();
    tx.filter((d,i)=>i===n-1).attr("text-anchor","end").attr("x", 1352 - xc(cXTicks[cXTicks.length-1])); }
  g.append("rect").attr("x",72).attr("y",top+3.3).attr("width",100.7).attr("height",27.4).attr("fill",labelFill[r]);
  g.append("text").attr("x",76).attr("y",top+23.3).attr("font-size",FS).attr("font-weight","bold").attr("fill","#111").text(depthLabels[r]);
});
svg.append("text").attr("x",68).attr("y",812.5).attr("font-size",FS).attr("font-weight","bold").attr("fill",TXT).text("(c)");
svg.append("text").attr("transform","translate(32,662) rotate(-90)").attr("text-anchor","middle").attr("font-size",FS).attr("fill",TXT)
  .call(t=>{ t.append("tspan").attr("font-style","italic").text("θ"); t.append("tspan").text(" [m"); t.append("tspan").attr("dy",-6.5).attr("font-size",FSS).text("3"); t.append("tspan").attr("dy",6.5).text("m"); t.append("tspan").attr("dy",-6.5).attr("font-size",FSS).text("-3"); t.append("tspan").attr("dy",6.5).text("]"); });
// legend (c)
const gL = svg.append("g");
legendBox(gL,737.7,708,599.3,53);
gL.append("circle").attr("cx",761).attr("cy",722.7).attr("r",3).attr("fill","#fff").attr("stroke","#111").attr("stroke-width",0.8);
gL.append("text").attr("x",783).attr("y",729).attr("font-size",FS).attr("fill",TXT).text("Observed volumetric water content");
gL.append("line").attr("x1",742.7).attr("x2",779.3).attr("y1",747.3).attr("y2",747.3).attr("stroke",ORANGE).attr("stroke-width",1.1);
gL.append("text").attr("x",783).attr("y",753.5).attr("font-size",FS).attr("fill",TXT).text("Simulated volumetric water content");
gL.append("rect").attr("x",1067).attr("y",714).attr("width",37).attr("height",16.7).attr("fill",GAPC);
gL.append("text").attr("x",1108).attr("y",729).attr("font-size",FS).attr("fill",TXT).text("Data gap");
gL.append("rect").attr("x",1067).attr("y",738.3).attr("width",37).attr("height",17.7).attr("fill",BLUE);
gL.append("text").attr("x",1108).attr("y",753.5).attr("font-size",FS).attr("fill",TXT).text("Irrigation / precipitation event");
</script>
</body></html>
